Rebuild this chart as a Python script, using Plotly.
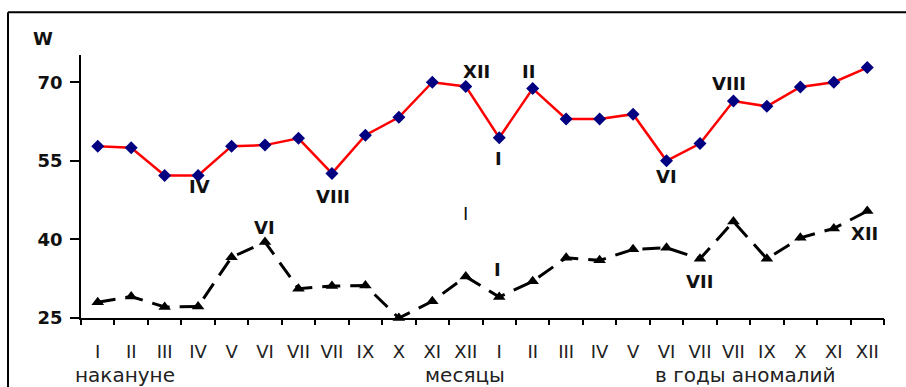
import plotly.graph_objects as go

# Month labels along the axis (24 months: year before + anomaly year)
months = ["I", "II", "III", "IV", "V", "VI", "VII", "VII", "IX", "X", "XI", "XII",
          "I", "II", "III", "IV", "V", "VI", "VII", "VII", "IX", "X", "XI", "XII"]

# Upper series (red line, blue diamonds)
upper = [57.8, 57.5, 52.2, 52.2, 57.8, 58.0, 59.3, 52.6, 59.9, 63.3, 70.0, 69.2,
         59.4, 68.8, 63.0, 63.0, 63.9, 55.0, 58.3, 66.4, 65.4, 69.1, 70.0, 72.8]

# Lower series (black dashed line, triangles)
lower = [28.0, 29.1, 27.1, 27.2, 36.6, 39.5, 30.6, 31.1, 31.2, 25.0, 28.2, 32.9,
         29.0, 32.0, 36.5, 36.0, 38.1, 38.4, 36.3, 43.4, 36.3, 40.3, 42.1, 45.4]

y_ticks = [25, 40, 55, 70]

# Month-name labels placed next to selected points: (text, x, y, bold)
point_labels = [
    ("IV", 3.03, 50.1, True), ("VIII", 7.03, 48.1, True), ("XII", 11.33, 72.0, True),
    ("I", 11.97, 55.5, True), ("II", 12.87, 72.0, True), ("VI", 17.0, 52.0, True),
    ("VIII", 18.88, 69.8, True), ("I", 10.99, 44.9, False),
    ("VI", 4.98, 42.2, True), ("I", 11.95, 34.2, True), ("VII", 18.0, 32.0, True),
    ("XII", 22.93, 41.2, True),
]

# Group captions under the month labels: (text, x)
group_captions = [("накануне", 0.80), ("месяцы", 10.98), ("в годы аномалий", 19.35)]

x = list(range(len(months)))
FONT = "DejaVu Sans, Verdana, sans-serif"

fig = go.Figure()
fig.add_trace(go.Scatter(
    x=x, y=upper, mode="lines+markers",
    line=dict(color="#ff0000", width=2.5),
    marker=dict(symbol="diamond", size=10, color="#000080"),
    cliponaxis=False, showlegend=False))
fig.add_trace(go.Scatter(
    x=x, y=lower, mode="lines+markers",
    line=dict(color="#000000", width=3, dash="18px,10px"),
    marker=dict(symbol="triangle-up", size=11, color="#000000"),
    cliponaxis=False, showlegend=False))
# invisible trace bound to the overlay axis carrying between-month ticks
fig.add_trace(go.Scatter(x=[-0.5], y=[25], xaxis="x2", mode="markers",
                         marker=dict(opacity=0), showlegend=False, hoverinfo="skip"))

annotations = []
for text, ax, ay, bold in point_labels:
    annotations.append(dict(
        x=ax, y=ay, xref="x", yref="y", text=f"<b>{text}</b>" if bold else text,
        showarrow=False, font=dict(family=FONT, size=18, color="#111")))
for text, ax in group_captions:
    annotations.append(dict(
        x=ax, y=-0.215, xref="x", yref="paper", text=text, showarrow=False,
        yanchor="middle", font=dict(family=FONT, size=20, color="#222")))
annotations.append(dict(
    x=-0.0473, y=1.0646, xref="paper", yref="paper", text="<b>W</b>", showarrow=False,
    xanchor="center", yanchor="middle", font=dict(family=FONT, size=18, color="#111")))

fig.update_layout(
    width=906, height=387,
    margin=dict(l=81, r=22, t=55, b=69),
    paper_bgcolor="white", plot_bgcolor="white",
    xaxis=dict(range=[-0.5, 23.5], tickvals=x, ticktext=months, ticks="",
               showgrid=False, zeroline=False, showline=True, linecolor="#000",
               linewidth=1.5, tickfont=dict(family=FONT, size=18, color="#222"),
               ticklabelstandoff=17),
    xaxis2=dict(overlaying="x", range=[-0.5, 23.5], side="bottom",
                tickvals=[i - 0.5 for i in range(len(months) + 1)],
                ticks="outside", ticklen=6, tickwidth=1.5, tickcolor="#000",
                showticklabels=False, showgrid=False, zeroline=False, showline=False),
    yaxis=dict(range=[25, 75.2], tickvals=y_ticks, ticks="outside", ticklen=9,
               tickwidth=1.5, tickcolor="#000", showgrid=False, zeroline=False,
               showline=True, linecolor="#000", linewidth=1.5,
               tickfont=dict(family=FONT, size=18, color="#111", weight="bold"),
               ticklabelstandoff=4),
    annotations=annotations,
    shapes=[
        dict(type="line", xref="paper", yref="paper", x0=-0.0909, x1=-0.0909,
             y0=1.163, y1=-0.4, line=dict(color="#000", width=2)),
        dict(type="line", xref="paper", yref="paper", x0=-0.0909, x1=1.2,
             y0=1.163, y1=1.163, line=dict(color="#000", width=2)),
    ],
)

fig.write_html("out.html")
